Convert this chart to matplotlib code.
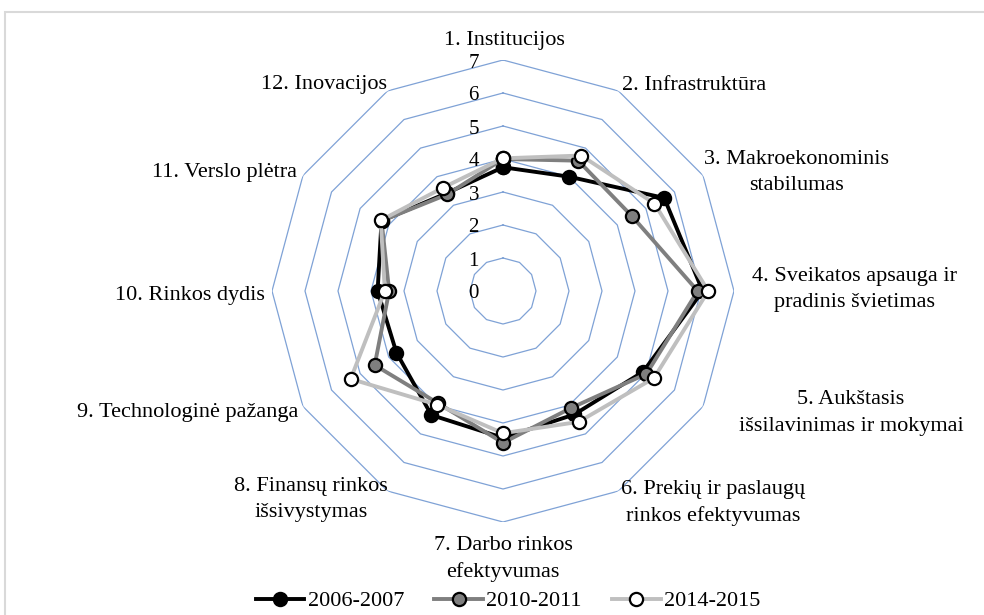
import numpy as np
import matplotlib.pyplot as plt
from matplotlib.patches import Rectangle

plt.rcParams["font.family"] = ["Liberation Serif", "DejaVu Serif"]

categories = [
    "1. Institucijos",
    "2. Infrastruktūra",
    "3. Makroekonominis\nstabilumas",
    "4. Sveikatos apsauga ir\npradinis švietimas",
    "5. Aukštasis\nišsilavinimas ir mokymai",
    "6. Prekių ir paslaugų\nrinkos efektyvumas",
    "7. Darbo rinkos\nefektyvumas",
    "8. Finansų rinkos\nišsivystymas",
    "9. Technologinė pažanga",
    "10. Rinkos dydis",
    "11. Verslo plėtra",
    "12. Inovacijos",
]
series_names = ["2006-2007", "2010-2011", "2014-2015"]
v_2006 = [3.75, 4.00, 5.64, 6.05, 4.90, 4.32, 4.45, 4.34, 3.73, 3.80, 4.25, 3.42]
v_2010 = [4.00, 4.56, 4.52, 5.90, 5.02, 4.10, 4.60, 3.93, 4.49, 3.45, 4.25, 3.38]
v_2014 = [4.02, 4.74, 5.30, 6.22, 5.28, 4.58, 4.31, 3.98, 5.33, 3.58, 4.28, 3.62]
ring_levels = [0, 1, 2, 3, 4, 5, 6, 7]

FS = 16
W, H = 984, 615
fig = plt.figure(figsize=(W / 100, H / 100), dpi=100)

# chart frame (light grey, runs off right/bottom)
fig.patches.append(Rectangle((5 / W, -0.1), 1.2, 1 - 12 / H + 0.1,
                             transform=fig.transFigure, fill=False,
                             edgecolor="#D9D9D9", lw=1.5))

cx, cy, R = 503, 291, 231
ax = fig.add_axes([(cx - R) / W, (H - cy - R) / H, 2 * R / W, 2 * R / H],
                  projection="polar")
ax.set_theta_zero_location("N")
ax.set_theta_direction(-1)
ax.set_ylim(0, max(ring_levels))
ax.grid(False)
ax.spines["polar"].set_visible(False)
ax.set_xticks([])
ax.set_yticks([])
ax.patch.set_alpha(0)

n = len(categories)
theta = np.linspace(0, 2 * np.pi, n, endpoint=False)
theta_c = np.append(theta, theta[0])

# polygon grid rings
for lvl in ring_levels[1:]:
    ax.plot(theta_c, [lvl] * (n + 1), color="#7FA2D6", lw=0.9, zorder=1)

# value labels on the vertical axis
for lvl in ring_levels:
    ax.annotate(str(lvl), xy=(0, lvl), xytext=(-24, -3),
                textcoords="offset pixels", ha="right", va="center",
                fontsize=15, color="#000000", zorder=2)

styles = [
    dict(color="#000000", mfc="#000000"),
    dict(color="#7F7F7F", mfc="#7F7F7F"),
    dict(color="#BFBFBF", mfc="#FFFFFF"),
]
for name, vals, st in zip(series_names, [v_2006, v_2010, v_2014], styles):
    vc = np.append(vals, vals[0])
    ax.plot(theta_c, vc, color=st["color"], lw=2.8, marker="o",
            markersize=9.5, mfc=st["mfc"], mec="#000000", mew=1.6,
            label=name, zorder=3)

# category labels (pixel anchors, alignment)
label_layout = [
    ((504, 40), "center"),
    ((622, 85), "left"),
    ((796, 173), "center"),
    ((854, 290), "center"),
    ((851, 413), "center"),
    ((713, 503), "center"),
    ((503, 559), "center"),
    ((311, 500), "center"),
    ((298, 413), "right"),
    ((265, 295), "right"),
    ((297, 172), "right"),
    ((387, 85), "right"),
]
for text, ((px, py), ha) in zip(categories, label_layout):
    fig.text(px / W, 1 - py / H, text, ha=ha, va="center",
             multialignment="center", fontsize=FS, linespacing=1.5)

leg = fig.legend(loc="center", bbox_to_anchor=(508 / W, 1 - 601 / H), ncol=3,
                 frameon=False, fontsize=FS, handlelength=2.2,
                 handletextpad=0.15, columnspacing=1.35)

fig.savefig("out.png", dpi=100)
